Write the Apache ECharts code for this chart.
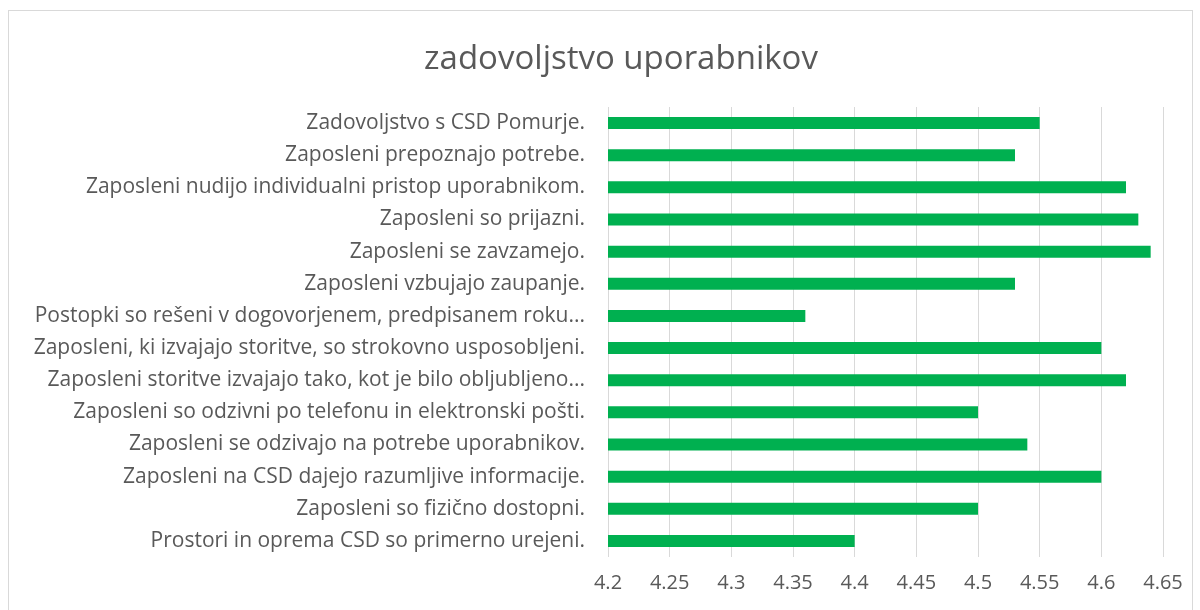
<!DOCTYPE html>
<html>
<head>
<meta charset="utf-8">
<script src="https://cdn.jsdelivr.net/npm/echarts@6/dist/echarts.min.js"></script>
<style>
html,body{margin:0;padding:0;background:#fff;overflow:hidden;}
#frame{position:absolute;left:8px;top:10px;width:1185px;height:640px;border:1px solid #D9D9D9;box-sizing:border-box;}
#chart{position:absolute;left:0;top:0;width:1200px;height:610px;}
</style>
</head>
<body>
<div id="frame"></div>
<div id="chart"></div>
<script>
const titleText = 'zadovoljstvo uporabnikov';
const categories = [
  'Zadovoljstvo s CSD Pomurje.',
  'Zaposleni prepoznajo potrebe.',
  'Zaposleni nudijo individualni pristop uporabnikom.',
  'Zaposleni so prijazni.',
  'Zaposleni se zavzamejo.',
  'Zaposleni vzbujajo zaupanje.',
  'Postopki so rešeni v dogovorjenem, predpisanem roku...',
  'Zaposleni, ki izvajajo storitve, so strokovno usposobljeni.',
  'Zaposleni storitve izvajajo tako, kot je bilo obljubljeno...',
  'Zaposleni so odzivni po telefonu in elektronski pošti.',
  'Zaposleni se odzivajo na potrebe uporabnikov.',
  'Zaposleni na CSD dajejo razumljive informacije.',
  'Zaposleni so fizično dostopni.',
  'Prostori in oprema CSD so primerno urejeni.'
];
const values = [4.55, 4.53, 4.62, 4.63, 4.64, 4.53, 4.36, 4.60, 4.62, 4.50, 4.54, 4.60, 4.50, 4.40];
const axisMin = 4.2;
const axisMax = 4.65;
const axisStep = 0.05;

const chart = echarts.init(document.getElementById('chart'), null, {renderer: 'canvas'});
chart.setOption({
  animation: false,
  backgroundColor: 'transparent',
  title: {
    text: titleText,
    left: 616,
    textAlign: 'center',
    top: 38,
    textStyle: {fontFamily: 'Open Sans', fontSize: 33, fontWeight: 'normal', color: '#595959'}
  },
  grid: {left: 608, right: 37, top: 107, bottom: 53, containLabel: false},
  xAxis: {
    type: 'value',
    min: axisMin,
    max: axisMax,
    interval: axisStep,
    axisLine: {show: false},
    axisTick: {show: false},
    splitLine: {show: true, lineStyle: {color: '#D9D9D9', width: 1}},
    axisLabel: {
      margin: 16,
      fontFamily: 'Open Sans', fontSize: 20, color: '#595959',
      formatter: v => String(parseFloat(v.toFixed(2)))
    }
  },
  yAxis: {
    type: 'category',
    data: categories,
    inverse: true,
    axisLine: {show: false},
    axisTick: {show: false},
    splitLine: {show: false},
    axisLabel: {margin: 23, fontFamily: 'Open Sans', fontSize: 21, color: '#595959'}
  },
  series: [{
    type: 'bar',
    data: values,
    barWidth: 12,
    itemStyle: {color: '#00B050'}
  }]
});
</script>
</body>
</html>
